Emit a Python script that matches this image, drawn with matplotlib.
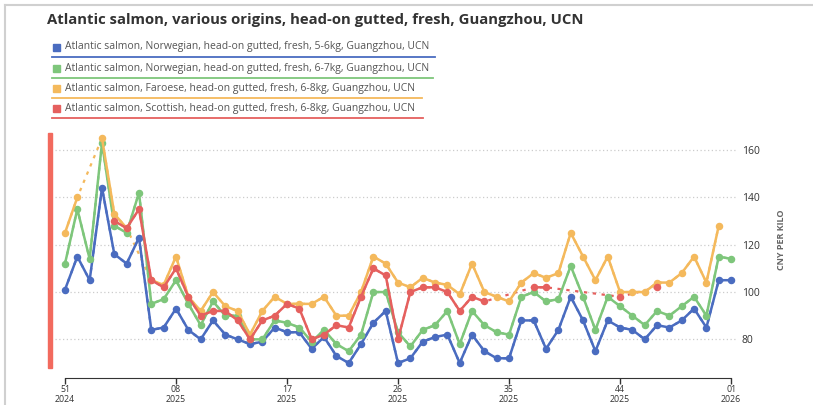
import numpy as np
import matplotlib
matplotlib.use("Agg")
import matplotlib.pyplot as plt
from matplotlib.patches import Rectangle
from matplotlib.lines import Line2D

plt.rcParams['font.family'] = ['Open Sans', 'DejaVu Sans']

# weeks 51/2024 .. 01/2026, one value per week (None = no price that week)
weeks = ["51", "52"] + [f"{w:02d}" for w in range(1, 53)] + ["01"]
tick_idx = [0, 9, 18, 27, 36, 45, 54]
tick_labels = ["51\n2024", "08\n2025", "17\n2025", "26\n2025", "35\n2025", "44\n2025", "01\n2026"]

nor_5_6 = [101, 115, 105, 144, 116, 112, 123, 84, 85, 93, 84, 80, 88, 82, 80, 78, 79, 85, 83, 83,
           76, 81, 73, 70, 78, 87, 92, 70, 72, 79, 81, 82, 70, 82, 75, 72, 72, 88, 88, 76,
           84, 98, 88, 75, 88, 85, 84, 80, 86, 85, 88, 93, 85, 105, 105]
nor_6_7 = [112, 135, 114, 163, 128, 125, 142, 95, 97, 105, 95, 86, 96, 90, 90, 80, 80, 88, 87, 85,
           79, 84, 78, 75, 82, 100, 100, 83, 77, 84, 86, 92, 78, 92, 86, 83, 82, 98, 100, 96,
           97, 111, 98, 84, 98, 94, 90, 86, 92, 90, 94, 98, 90, 115, 114]
faroese = [125, 140, None, 165, 133, 127, None, 105, 103, 115, 98, 92, 100, 94, 92, 82, 92, 98, 95, 95,
           95, 98, 90, 90, 100, 115, 112, 104, 102, 106, 104, 103, 99, 112, 100, 98, 96, 104, 108, 106,
           108, 125, 115, 105, 115, 100, 100, 100, 104, 104, 108, 115, 104, 128, None]
scottish = [None, None, None, None, 130, 127, 135, 105, 102, 110, 98, 90, 92, 92, 88, 80, 88, 90, 95, 93,
            80, 82, 86, 85, 98, 110, 107, 80, 100, 102, 102, 100, 92, 98, 96, None, None, None, 102, 102,
            None, None, None, None, None, 98, None, None, 102, None, None, None, None, None, None]

series = [
    ("Atlantic salmon, Norwegian, head-on gutted, fresh, 5-6kg, Guangzhou, UCN", nor_5_6, "#4a6cc0"),
    ("Atlantic salmon, Norwegian, head-on gutted, fresh, 6-7kg, Guangzhou, UCN", nor_6_7, "#7ec67b"),
    ("Atlantic salmon, Faroese, head-on gutted, fresh, 6-8kg, Guangzhou, UCN", faroese, "#f4b95c"),
    ("Atlantic salmon, Scottish, head-on gutted, fresh, 6-8kg, Guangzhou, UCN", scottish, "#e5605e"),
]

W, H = 813, 405
fig = plt.figure(figsize=(W / 100, H / 100), dpi=100)
ax = fig.add_axes([55 / W, 1 - 368 / H, (736 - 55) / W, (368 - 133) / H])

x = np.arange(len(weeks))
for name, vals, color in series:
    y = np.array([np.nan if v is None else v for v in vals], dtype=float)
    ok = ~np.isnan(y)
    # dotted bridge over missing weeks
    ax.plot(x[ok], y[ok], color=color, lw=1.6, linestyle=(0, (1.5, 2.5)), zorder=2)
    ax.plot(x, y, color=color, lw=1.8, marker="o", markersize=4.4, zorder=3)

ax.set_xlim(-0.81, 54.4)
ax.set_ylim(67.9, 167.2)
ax.set_yticks([80, 100, 120, 140, 160])
ax.yaxis.tick_right()
ax.tick_params(axis="y", length=0, pad=4, labelsize=7.5, labelcolor="#333333")
ax.grid(axis="y", color="#cccccc", linestyle=(0, (1, 2)), lw=0.9)
ax.set_axisbelow(True)
for s in ["top", "left", "right"]:
    ax.spines[s].set_visible(False)
ax.spines["bottom"].set_position(("outward", 7))
ax.spines["bottom"].set_bounds(0, 54)
ax.spines["bottom"].set_color("#333333")
ax.set_xticks(tick_idx)
ax.set_xticklabels(tick_labels, linespacing=1.15)
ax.tick_params(axis="x", length=4, width=1, color="#333333", labelsize=6.3, labelcolor="#333333", pad=1)

# title, legend, axis label
fig.text(47 / W, 1 - 20 / H, "Atlantic salmon, various origins, head-on gutted, fresh, Guangzhou, UCN",
         fontsize=10.7, fontweight="bold", color="#333333", va="center", ha="left")
ys = [47, 68, 88, 108]
ends = [435, 433, 422, 423]
for (name, vals, color), yy, xe in zip(series, ys, ends):
    fig.patches.append(Rectangle((53 / W, 1 - (yy + 4) / H), 7 / W, 7 / H, color=color,
                                 transform=fig.transFigure, figure=fig))
    fig.text(65 / W, 1 - yy / H, name, fontsize=7.5, color="#555555", va="center", ha="left")
    fig.lines.append(Line2D([52 / W, xe / W], [1 - (yy + 10) / H] * 2, color=color, lw=1.3,
                            transform=fig.transFigure, figure=fig))

fig.text(781 / W, 1 - 240 / H, "CNY PER KILO", rotation=90, fontsize=6.5, fontweight="bold",
         color="#666666", va="center", ha="center")

# red accent bar and frame
fig.patches.append(Rectangle((48 / W, 1 - 368 / H), 4 / W, 235 / H, color="#f26a5e",
                             transform=fig.transFigure, figure=fig))
fig.lines.append(Line2D([5 / W, 1], [1 - 5 / H] * 2, color="#d0d0d0", lw=1.5,
                        transform=fig.transFigure, figure=fig))
fig.lines.append(Line2D([5 / W, 5 / W], [0, 1 - 5 / H], color="#d0d0d0", lw=1.5,
                        transform=fig.transFigure, figure=fig))

fig.savefig("out.png", dpi=100)
